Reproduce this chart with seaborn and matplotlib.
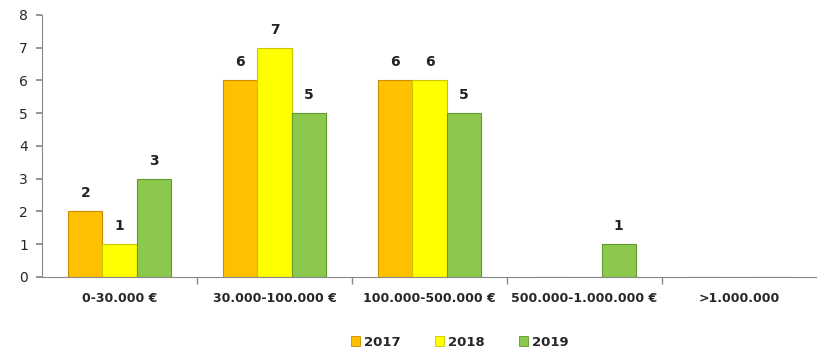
import matplotlib
matplotlib.use("Agg")
import matplotlib.pyplot as plt
import seaborn as sns
import pandas as pd
import numpy as np
from matplotlib.ticker import FixedLocator

categories = ["0-30.000 €", "30.000-100.000 €", "100.000-500.000 €", "500.000-1.000.000 €", ">1.000.000"]
years = ["2017", "2018", "2019"]
values_2017 = [2, 6, 6, 0, 0]
values_2018 = [1, 7, 6, 0, 0]
values_2019 = [3, 5, 5, 1, 0]
colors = ["#FFC000", "#FFFF00", "#8DC84E"]
edge_colors = ["#C98F00", "#C8C800", "#5E9A2E"]

rows = []
for yr, vals in zip(years, [values_2017, values_2018, values_2019]):
    for c, v in zip(categories, vals):
        rows.append({"Categoria": c, "Anno": yr, "Valore": v})
df = pd.DataFrame(rows)

sns.set_theme(style="white")
plt.rcParams["font.family"] = ["DejaVu Sans"]

fig = plt.figure(figsize=(8.17, 3.5), dpi=100)
ax = fig.add_axes([0.0514, 0.2086, 0.9486, 0.7486])

sns.barplot(data=df, x="Categoria", y="Valore", hue="Anno", order=categories,
            hue_order=years, palette=colors, width=0.66, ax=ax,
            saturation=1, legend=False, errorbar=None)

for cont, ec in zip(ax.containers, edge_colors):
    for bar in cont:
        bar.set_edgecolor(ec)
        bar.set_linewidth(0.8)
    labels = [f"{int(b.get_height())}" if b.get_height() > 0 else "" for b in cont]
    ax.bar_label(cont, labels=labels, padding=8, fontsize=10, fontweight="bold", color="#222222")

ax.set_ylim(0, 8)
ax.set_xlim(-0.5, 4.5)
ax.set_yticks(range(0, 9))
ax.tick_params(axis="y", labelsize=10, length=4, color="#888888", direction="out", left=True, pad=6)
ax.tick_params(axis="x", which="major", length=0, labelsize=9, pad=11)
for lbl in ax.get_xticklabels():
    lbl.set_fontweight("bold")
ax.xaxis.set_minor_locator(FixedLocator([0.5, 1.5, 2.5, 3.5]))
ax.tick_params(axis="x", which="minor", length=5, color="#888888", bottom=True)
ax.set_xlabel("")
ax.set_ylabel("")

for side in ["top", "right"]:
    ax.spines[side].set_visible(False)
for side in ["left", "bottom"]:
    ax.spines[side].set_color("#888888")
    ax.spines[side].set_linewidth(0.8)

handles = [plt.Rectangle((0, 0), 1, 1, facecolor=c, edgecolor=e, linewidth=0.6)
           for c, e in zip(colors, edge_colors)]
leg = fig.legend(handles, years, loc="lower center", bbox_to_anchor=(0.563, -0.03), ncol=3,
                 frameon=False, handlelength=0.7, handleheight=0.7, columnspacing=2.6,
                 handletextpad=0.3, prop={"weight": "bold", "size": 9.5})

fig.savefig("out.png", dpi=100)
